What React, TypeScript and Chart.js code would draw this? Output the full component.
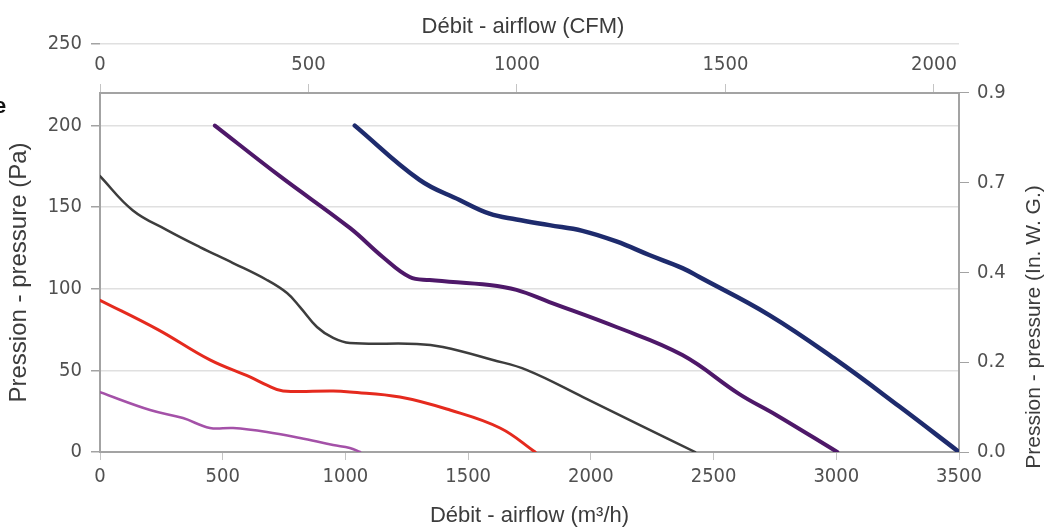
import React, { useEffect, useRef } from "react";
import { Chart, registerables } from "chart.js";

Chart.register(...registerables);

// ---- axes ----
const AIRFLOW_TICKS = [0, 500, 1000, 1500, 2000, 2500, 3000, 3500]; // m³/h
const CFM_TICKS = [0, 500, 1000, 1500, 2000];
const PA_TICKS = [0, 50, 100, 150, 200, 250];
const INWG_TICKS = [0, 0.225, 0.45, 0.675, 0.9];
const INWG_LABELS = ["0.0", "0.2", "0.4", "0.7", "0.9"];
const M3H_PER_CFM = 1.699;
const PA_AT_FRAME_TOP = 220; // left-axis value where the plot frame's top edge sits

// ---- curves (airflow m³/h, pressure Pa) ----
const navyFlow = [1038, 1302, 1465, 1587, 1697, 1831, 1966, 2104, 2238, 2373, 2442, 2727, 3000, 3256, 3500];
const navyPa = [200, 166.7, 154.4, 146, 142.5, 139, 135.5, 129, 120.7, 112.7, 107.2, 83.9, 56.4, 28, 0];

const purpleFlow = [468, 733, 1018, 1152, 1262, 1343, 1587, 1697, 1831, 2104, 2373, 2605, 2755, 3004];
const purplePa = [200, 169, 137.3, 119.5, 107.2, 105.4, 102.3, 99.3, 91.9, 76.6, 59.4, 35.5, 22.7, 0];

const grayFlow = [0, 134, 273, 407, 542, 680, 762, 815, 884, 950, 1018, 1291, 1397, 1601, 1740, 1968, 2200, 2425];
const grayPa = [169, 148, 136, 125.6, 115.8, 105.4, 97.4, 88.8, 76.6, 69.9, 66.8, 66.2, 64.3, 56.4, 50.2, 33.7, 16.5, 0];

const redFlow = [0, 236, 448, 611, 680, 746, 950, 1018, 1222, 1426, 1630, 1773];
const redPa = [93, 75, 56.4, 46, 41, 37.4, 37.4, 36.8, 33.7, 25.7, 14.7, 0];

const magentaFlow = [0, 204, 338, 448, 542, 680, 815, 950, 1018, 1060];
const magentaPa = [36.6, 25.7, 20.8, 14.7, 14.7, 12.3, 8.6, 4.3, 2.5, 0];

// ---- text ----
const TOP_TITLE = "Débit - airflow (CFM)";
const BOTTOM_TITLE = "Débit - airflow (m³/h)";
const LEFT_TITLE = "Pression - pressure (Pa)";
const RIGHT_TITLE = "Pression - pressure (In. W. G.)";

const FONT_TICK = "'Liberation Sans Narrow', 'Arial Narrow', 'DejaVu Sans Condensed', 'Liberation Sans', sans-serif";
const FONT_TITLE = "'Liberation Sans', Arial, sans-serif";
const TICK_COLOR = "#505050";
const TITLE_COLOR = "#3c3c3c";
const AXIS_COLOR = "#a3a3a3";
const GRID_COLOR = "#e0e0e0";

const pts = (xs: number[], ys: number[]) => xs.map((x, i) => ({ x, y: ys[i] }));

const setTicks = (values: number[]) => (scale: any) => {
  scale.ticks = values.map((value) => ({ value }));
};

const framePlugin = {
  id: "frame",
  beforeDatasetsDraw(chart: any) {
    const { ctx, scales } = chart;
    const x = scales.x;
    const top = scales.y2.getPixelForValue(INWG_TICKS[INWG_TICKS.length - 1]);
    const bottom = scales.y.getPixelForValue(0);
    ctx.save();
    ctx.strokeStyle = AXIS_COLOR;
    ctx.lineWidth = 2;
    ctx.beginPath();
    ctx.moveTo(x.left, top);
    ctx.lineTo(x.left, bottom);
    ctx.moveTo(x.right, top);
    ctx.lineTo(x.right, bottom);
    ctx.stroke();

    ctx.fillStyle = TITLE_COLOR;
    ctx.textAlign = "center";
    ctx.textBaseline = "middle";
    ctx.save();
    ctx.font = `24px ${FONT_TITLE}`;
    ctx.translate(19, (top + bottom) / 2);
    ctx.rotate(-Math.PI / 2);
    ctx.fillText(LEFT_TITLE, 0, 0);
    ctx.restore();
    ctx.save();
    ctx.font = `21px ${FONT_TITLE}`;
    ctx.translate(1034, 327);
    ctx.rotate(-Math.PI / 2);
    ctx.fillText(RIGHT_TITLE, 0, 0);
    ctx.restore();
    ctx.restore();
  },
};

export default function App() {
  const ref = useRef<HTMLCanvasElement | null>(null);

  useEffect(() => {
    if (!ref.current) return;
    const tickFont = { family: FONT_TICK, size: 20 };
    const plain = (v: any) => String(v);
    const line = (data: any[], color: string, width: number) => ({
      data,
      borderColor: color,
      backgroundColor: color,
      borderWidth: width,
      pointRadius: 0,
      fill: false,
      tension: 0.4,
      borderCapStyle: "round" as const,
      borderJoinStyle: "round" as const,
      xAxisID: "x",
      yAxisID: "y",
    });
    const chart = new Chart(ref.current, {
      type: "line",
      data: {
        datasets: [
          line(pts(magentaFlow, magentaPa), "#a451a8", 2.5),
          line(pts(redFlow, redPa), "#e52a1e", 3),
          line(pts(grayFlow, grayPa), "#3d3d3d", 2.5),
          line(pts(purpleFlow, purplePa), "#4e1869", 4),
          line(pts(navyFlow, navyPa), "#1e2b6d", 4.5),
        ],
      },
      options: {
        responsive: false,
        animation: false,
        layout: { padding: 0 },
        plugins: {
          legend: { display: false },
          tooltip: { enabled: false },
          title: {
            display: true,
            text: TOP_TITLE,
            color: TITLE_COLOR,
            font: { family: FONT_TITLE, size: 22, weight: "normal" },
            padding: { top: 13.8, bottom: 3.8 },
          },
        },
        scales: {
          x: {
            type: "linear",
            position: "bottom",
            min: 0,
            max: AIRFLOW_TICKS[AIRFLOW_TICKS.length - 1],
            afterBuildTicks: setTicks(AIRFLOW_TICKS),
            afterFit: (s: any) => {
              s.height = 77;
            },
            grid: { drawOnChartArea: false, drawTicks: true, tickLength: 8, color: "#c4c4c4" },
            border: { display: true, color: AXIS_COLOR, width: 2 },
            ticks: { padding: 5, color: TICK_COLOR, font: tickFont, maxRotation: 0, autoSkip: false, callback: plain },
            title: {
              display: true,
              text: BOTTOM_TITLE,
              color: TITLE_COLOR,
              font: { family: FONT_TITLE, size: 22 },
              padding: { top: 0, bottom: 0 },
            },
          },
          x2: {
            type: "linear",
            position: { y2: INWG_TICKS[INWG_TICKS.length - 1] } as any,
            min: 0,
            max: AIRFLOW_TICKS[AIRFLOW_TICKS.length - 1] / M3H_PER_CFM,
            afterBuildTicks: setTicks(CFM_TICKS),
            grid: { drawOnChartArea: false, drawTicks: true, tickLength: -10, color: "#c4c4c4" },
            border: { display: true, color: AXIS_COLOR, width: 2 },
            ticks: { padding: -30, color: TICK_COLOR, font: tickFont, maxRotation: 0, autoSkip: false, callback: plain },
          },
          y: {
            type: "linear",
            position: "left",
            min: 0,
            max: PA_TICKS[PA_TICKS.length - 1],
            afterBuildTicks: setTicks(PA_TICKS),
            afterFit: (s: any) => {
              s.width = 100;
            },
            grid: { color: GRID_COLOR, tickColor: AXIS_COLOR, tickLength: 9, lineWidth: 1.5 },
            border: { display: false },
            ticks: { padding: 9, color: TICK_COLOR, font: tickFont, autoSkip: false, callback: plain },
          },
          y2: {
            type: "linear",
            position: "right",
            min: 0,
            max: (INWG_TICKS[INWG_TICKS.length - 1] * PA_TICKS[PA_TICKS.length - 1]) / PA_AT_FRAME_TOP,
            afterBuildTicks: setTicks(INWG_TICKS),
            afterFit: (s: any) => {
              s.width = 87;
            },
            grid: { drawOnChartArea: false, tickColor: AXIS_COLOR, tickLength: 10 },
            border: { display: false },
            ticks: {
              padding: 8,
              color: TICK_COLOR,
              font: tickFont,
              autoSkip: false,
              callback: (_v: any, i: number) => INWG_LABELS[i],
            },
          },
        },
      },
      plugins: [framePlugin],
    });
    return () => chart.destroy();
  }, []);

  return (
    <div style={{ position: "fixed", left: 0, top: 0, width: 1046, height: 529, background: "#fff", overflow: "hidden" }}>
      <canvas ref={ref} width={1046} height={529} style={{ display: "block" }} />
      <span
        style={{
          position: "absolute",
          left: -6,
          top: 93,
          font: `bold 22px ${FONT_TITLE}`,
          color: "#111",
        }}
      >
        e
      </span>
    </div>
  );
}
